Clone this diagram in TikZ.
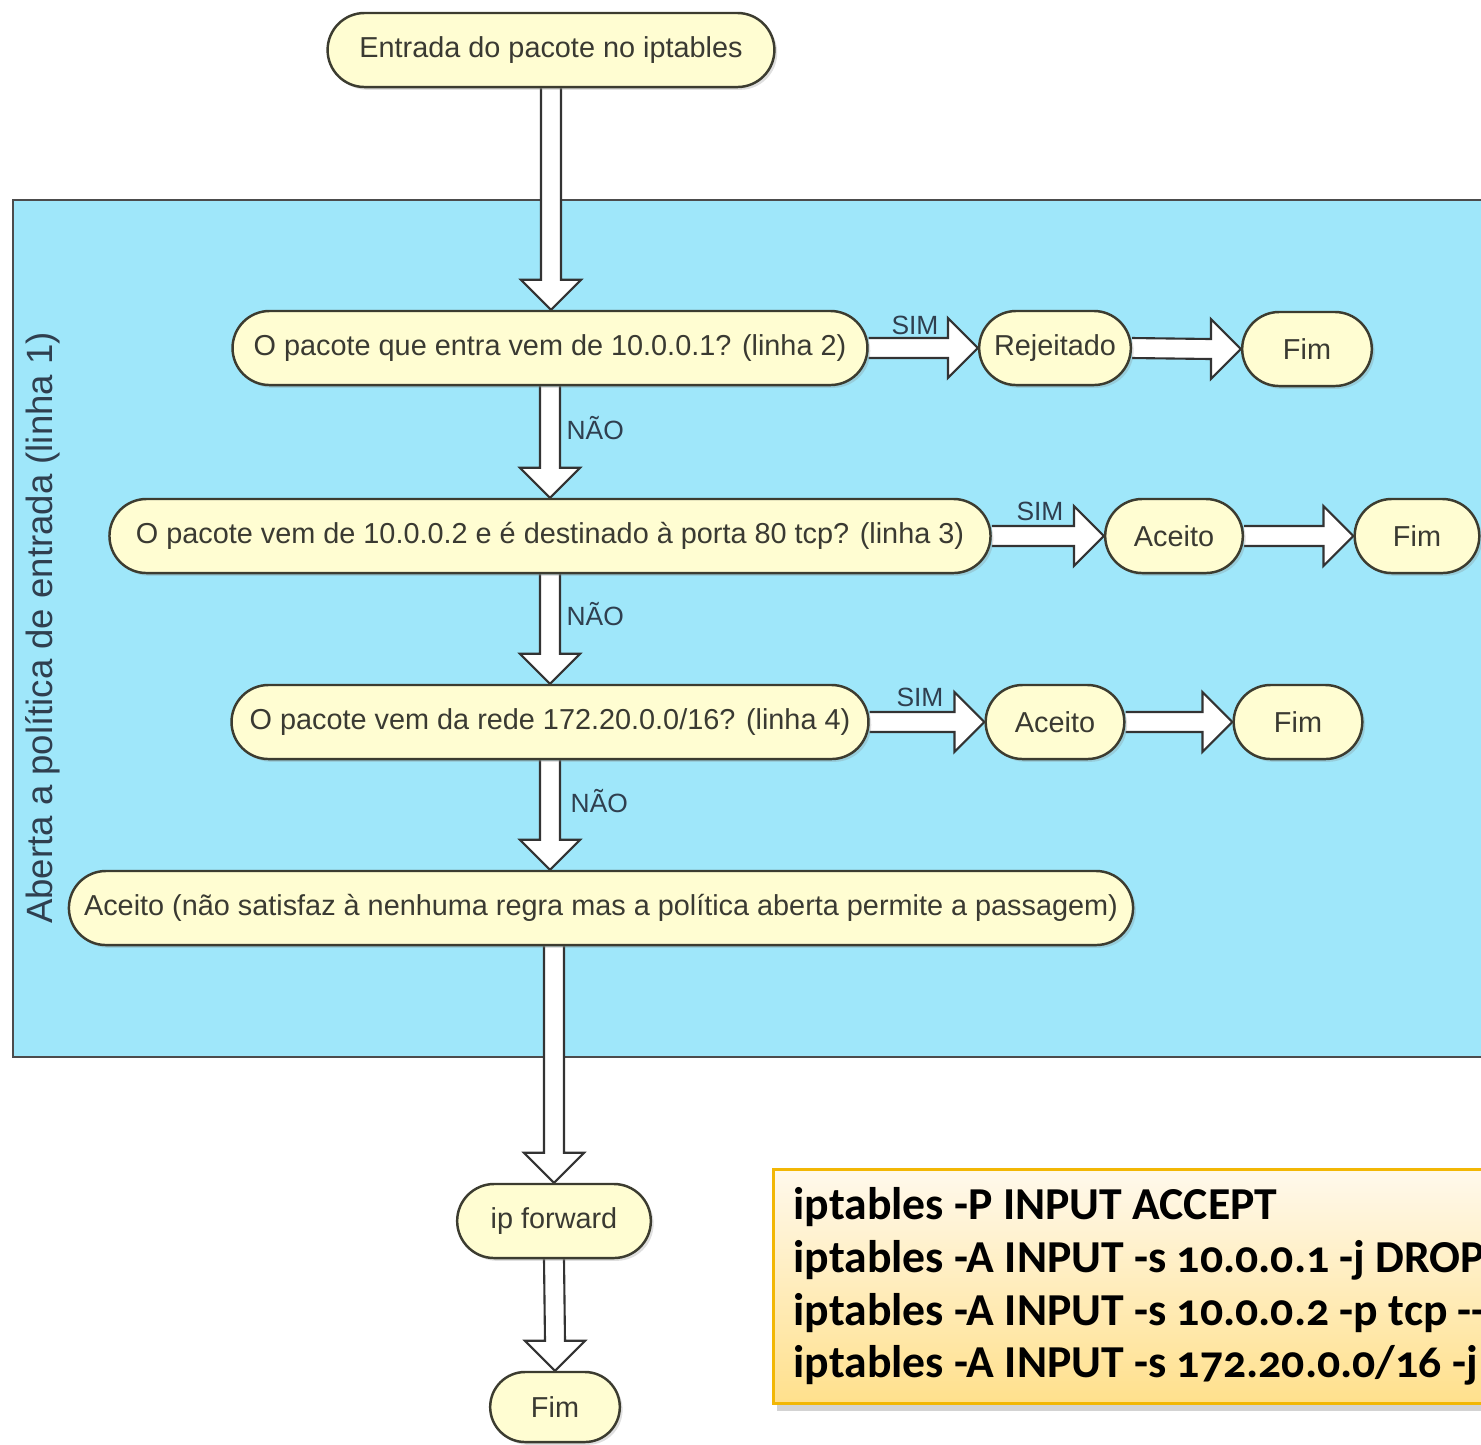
\documentclass[tikz,border=0pt]{standalone}
\usepackage{fontspec}
\setmainfont{Liberation Sans}
\newfontfamily\codigofont[Numbers=OldStyle]{Carlito}
\usepackage{tikz}
\usetikzlibrary{shapes.misc,shadows,calc,positioning}

\definecolor{azulfundo}{HTML}{9FE7FA}
\definecolor{creme}{HTML}{FFFDD2}
\definecolor{bordaetapa}{HTML}{3C3C30}
\definecolor{textoetapa}{HTML}{3A3A32}
\definecolor{rotuloazul}{HTML}{2F3F4F}
\definecolor{codigotopo}{HTML}{FFF9EC}
\definecolor{codigobase}{HTML}{FFE08C}
\definecolor{codigoborda}{HTML}{F2B705}

\pgfdeclarelayer{fundo}
\pgfdeclarelayer{setas}
\pgfsetlayers{fundo,setas,main}

% seta larga vazada, de #1 para baixo ate #2
\newcommand{\setav}[2]{%
  \draw[setabloco] ($#1+(-10,0)$) -- ($#2+(-10,-30)$) -- ($#2+(-30,-30)$) -- #2
    -- ($#2+(30,-30)$) -- ($#2+(10,-30)$) -- ($#1+(10,0)$);}
% seta larga vazada, de #1 para a direita ate #2
\newcommand{\setah}[2]{%
  \draw[setabloco] ($#1+(0,-10)$) -- ($#2+(-30,-10)$) -- ($#2+(-30,-30)$) -- #2
    -- ($#2+(-30,30)$) -- ($#2+(-30,10)$) -- ($#1+(0,10)$);}

\begin{document}
\begin{tikzpicture}[x=0.01cm, y=-0.01cm,
    % caixas arredondadas do fluxograma
    etapa/.style={
        draw=bordaetapa,
        fill=creme,
        rounded rectangle,
        minimum height=0.74cm,
        line width=0.7pt,
        text=textoetapa,
        font=\fontsize{8.2}{10}\selectfont,
        drop shadow={opacity=0.25, shadow xshift=0.8pt, shadow yshift=-0.8pt}
    },
    % setas largas brancas
    setabloco/.style={
        draw=black!80,
        fill=white,
        line width=0.6pt,
        line join=miter
    },
    % SIM / NAO
    rotulo/.style={
        text=rotuloazul,
        font=\fontsize{7.5}{9}\selectfont,
        inner sep=0pt
    }
]

\useasboundingbox (0,0) rectangle (1481,1444);
\clip (0,0) rectangle (1481,1444);

% area da politica
\begin{pgfonlayer}{fundo}
    \fill[azulfundo] (13,200) rectangle (1481,1057);
    \draw[black!70, line width=0.8pt] (1481,200) -- (13,200) -- (13,1057) -- (1481,1057);
\end{pgfonlayer}

\node[rotate=90, text=rotuloazul, font=\fontsize{10.4}{12}\selectfont] (politica) at (43,628) {Aberta a política de entrada (linha 1)};

% etapas
\node[etapa, minimum width=4.70cm] (inicio) at (551,50) {Entrada do pacote no iptables};

\node[etapa, minimum width=6.58cm] (p1) at (550,348) {O pacote que entra vem de 10.0.0.1? (linha 2)};
\node[etapa, minimum width=1.75cm] (rejeitado) at (1055,348) {Rejeitado};
\node[etapa, minimum width=1.53cm] (fim1) at (1307,349) {Fim};

\node[etapa, minimum width=9.04cm] (p2) at (550,536) {O pacote vem de 10.0.0.2 e é destinado à porta 80 tcp? (linha 3)};
\node[etapa, minimum width=1.61cm] (aceito2) at (1174,536) {Aceito};
\node[etapa, minimum width=1.48cm] (fim2) at (1417,536) {Fim};

\node[etapa, minimum width=6.60cm] (p3) at (550,722) {O pacote vem da rede 172.20.0.0/16? (linha 4)};
\node[etapa, minimum width=1.62cm] (aceito3) at (1055,722) {Aceito};
\node[etapa, minimum width=1.52cm] (fim3) at (1298,722) {Fim};

\node[etapa, minimum width=10.87cm] (aceito4) at (601,908) {Aceito (não satisfaz à nenhuma regra mas a política aberta permite a passagem)};

\node[etapa, minimum width=2.17cm] (ipforward) at (554,1221) {ip forward};
\node[etapa, minimum width=1.53cm, minimum height=0.70cm] (fim4) at (555,1407) {Fim};

% setas
\begin{pgfonlayer}{setas}
    \setav{(inicio.south)}{(inicio.south |- p1.north)}
    \setav{(p1.south)}{(p2.north)}
    \setav{(p2.south)}{(p3.north)}
    \setav{(p3.south)}{(p3.south |- aceito4.north)}
    \setav{(ipforward.north |- aceito4.south)}{(ipforward.north)}
    \setav{(ipforward.south)}{(fim4.north)}

    \setah{(p1.east)}{(rejeitado.west)}
    \setah{(rejeitado.east)}{(fim1.west)}
    \setah{(p2.east)}{(aceito2.west)}
    \setah{(aceito2.east)}{(fim2.west)}
    \setah{(p3.east)}{(aceito3.west)}
    \setah{(aceito3.east)}{(fim3.west)}
\end{pgfonlayer}

% rotulos
\node[rotulo] (sim1) at (915,325) {SIM};
\node[rotulo] (sim2) at (1040,511) {SIM};
\node[rotulo] (sim3) at (920,697) {SIM};
\node[rotulo, anchor=west] (nao1) at (566,428) {NÃO};
\node[rotulo, anchor=west] (nao2) at (566,614) {NÃO};
\node[rotulo, anchor=west] (nao3) at (570,801) {NÃO};

% regras
\node[draw=codigoborda, line width=0.8pt, top color=codigotopo, bottom color=codigobase,
      anchor=north west, minimum height=2.34cm, inner xsep=0.2cm, align=left,
      font=\codigofont\bfseries\fontsize{13}{15}\selectfont,
      drop shadow={opacity=0.35, shadow xshift=1pt, shadow yshift=-2pt}] (regras) at (772,1168)
    {iptables -P INPUT ACCEPT\\
     iptables -A INPUT -s 10.0.0.1 -j DROP\\
     iptables -A INPUT -s 10.0.0.2 -p tcp --dport 80 -j ACCEPT\\
     iptables -A INPUT -s 172.20.0.0/16 -j ACCEPT};

\end{tikzpicture}
\end{document}
